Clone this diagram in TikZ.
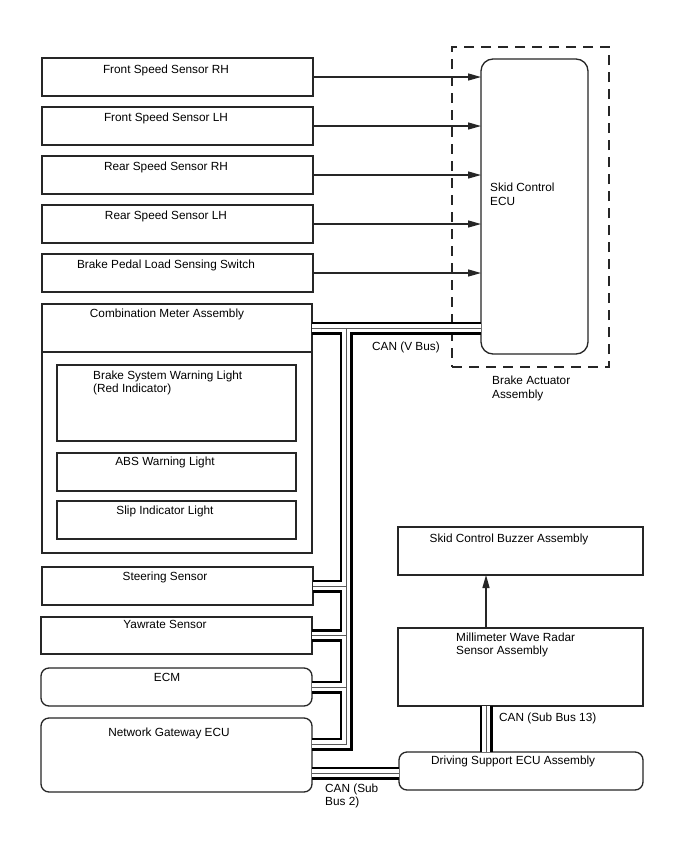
\documentclass[tikz,border=0pt]{standalone}
\usepackage{fontspec}
\setmainfont{Liberation Sans}
\usetikzlibrary{arrows.meta,calc}
\begin{document}
\begin{tikzpicture}[x=1pt,y=-1pt,
  box/.style={draw=black!85,line width=1.3pt,inner sep=0pt,outer sep=0pt,fill=white},
  rbox/.style={box,rounded corners=8pt},
  txt/.style={inner sep=0pt,anchor=base,font=\fontsize{11.8}{14}\selectfont},
  ltxt/.style={txt,anchor=base west},
  arr/.style={line width=1.3pt,draw=black!85,-{Triangle[length=13pt,width=7pt]}},
  busouter/.style={line width=13pt,draw=black,line join=miter},
  businner/.style={line width=7.6pt,draw=white,line join=miter},
  buscenter/.style={line width=0.9pt,draw=black!65,line join=miter}]
\useasboundingbox (0,0) rectangle (688,852);
\fill[white] (0,0) rectangle (688,852);

% dashed assembly
\node[box,fill=none,dash pattern=on 10pt off 7pt,line width=1.5pt,minimum width=157pt,minimum height=320pt] (act) at (530.5,207) {};
\node[box,rounded corners=12pt,minimum width=107pt,minimum height=295pt] (ecu) at (534.5,206.5) {};
\node[ltxt] (tecu1) at (490,191) {Skid Control};
\node[ltxt] (tecu2) at (490,205) {ECU};
\node[ltxt] (tact1) at (492,384) {Brake Actuator};
\node[ltxt] (tact2) at (492,398) {Assembly};

% sensors
\node[box,minimum width=271pt,minimum height=38pt] (s1) at (177.5,77) {};
\node[box,minimum width=271pt,minimum height=38pt] (s2) at (177.5,126) {};
\node[box,minimum width=271pt,minimum height=38pt] (s3) at (177.5,175) {};
\node[box,minimum width=271pt,minimum height=38pt] (s4) at (177.5,224) {};
\node[box,minimum width=271pt,minimum height=38pt] (s5) at (177.5,273) {};
\node[txt] (ts1) at (166,73) {Front Speed Sensor RH};
\node[txt] (ts2) at (166,121) {Front Speed Sensor LH};
\node[txt] (ts3) at (166,170) {Rear Speed Sensor RH};
\node[txt] (ts4) at (166,219) {Rear Speed Sensor LH};
\node[txt] (ts5) at (166,268) {Brake Pedal Load Sensing Switch};

\foreach \s in {s1,s2,s3,s4,s5}
  \draw[arr] (\s.east) -- (ecu.west |- \s.east);

% combination meter
\node[box,minimum width=270pt,minimum height=249pt] (cm) at (177,428.5) {};
\coordinate (cmdiv) at (177,352);
\draw[draw=black!85,line width=1.3pt] (cm.west |- cmdiv) -- (cm.east |- cmdiv);
\node[txt] (tcm) at (167,317) {Combination Meter Assembly};
\node[box,minimum width=239pt,minimum height=76pt] (bsw) at (176.5,403) {};
\node[ltxt] (tbsw1) at (93,379) {Brake System Warning Light};
\node[ltxt] (tbsw2) at (93,392) {(Red Indicator)};
\node[box,minimum width=239pt,minimum height=38pt] (abs) at (176.5,472) {};
\node[txt] (tabs) at (165,465) {ABS Warning Light};
\node[box,minimum width=239pt,minimum height=38pt] (slip) at (176.5,520) {};
\node[txt] (tslip) at (165,514) {Slip Indicator Light};

% lower left
\node[box,minimum width=271pt,minimum height=38pt] (st) at (177.5,586) {};
\node[txt] (tst) at (165,580) {Steering Sensor};
\node[box,minimum width=271pt,minimum height=37pt] (yaw) at (176.5,635.5) {};
\node[txt] (tyaw) at (165,628) {Yawrate Sensor};
\node[rbox,minimum width=271pt,minimum height=38pt] (ecm) at (176.5,687) {};
\node[txt] (tecm) at (167,681) {ECM};
\node[rbox,minimum width=271pt,minimum height=74pt] (ng) at (176.5,755) {};
\node[txt] (tng) at (169,736) {Network Gateway ECU};

% right lower
\node[box,minimum width=245pt,minimum height=48pt] (bz) at (520.5,551) {};
\node[txt] (tbz) at (509,542) {Skid Control Buzzer Assembly};
\node[box,minimum width=245pt,minimum height=78pt] (mw) at (520.5,667) {};
\node[ltxt] (tmw1) at (456,641) {Millimeter Wave Radar};
\node[ltxt] (tmw2) at (456,654) {Sensor Assembly};
\node[rbox,minimum width=244pt,minimum height=38pt] (ds) at (521,771) {};
\node[ltxt] (tds) at (431,764) {Driving Support ECU Assembly};

\coordinate (sb13) at (486,730);
\draw[arr] (mw.north -| sb13) -- (bz.south -| sb13);

% CAN buses
\coordinate (vb) at (346,328);
\coordinate (vbend) at (346,744);
\coordinate (sb2) at (356,773);
\def\canbus{(cm.east |- vb) -- (ecu.west |- vb)
  (vb) -- (vbend) -- (ng.east |- vbend)
  (st.east) -- (st.east -| vb)
  (yaw.east) -- (yaw.east -| vb)
  (ecm.east) -- (ecm.east -| vb)
  (ng.east |- sb2) -- (ds.west |- sb2)
  (mw.south -| sb13) -- (ds.north -| sb13)}
\draw[busouter] \canbus;
\draw[businner] \canbus;
\draw[buscenter] \canbus;

\node[ltxt] (tvb) at (372,350) {CAN (V Bus)};
\node[ltxt] (tsb13) at (499,721) {CAN (Sub Bus 13)};
\node[ltxt] (tsb2a) at (325,792) {CAN (Sub};
\node[ltxt] (tsb2b) at (325,805) {Bus 2)};
\end{tikzpicture}
\end{document}
